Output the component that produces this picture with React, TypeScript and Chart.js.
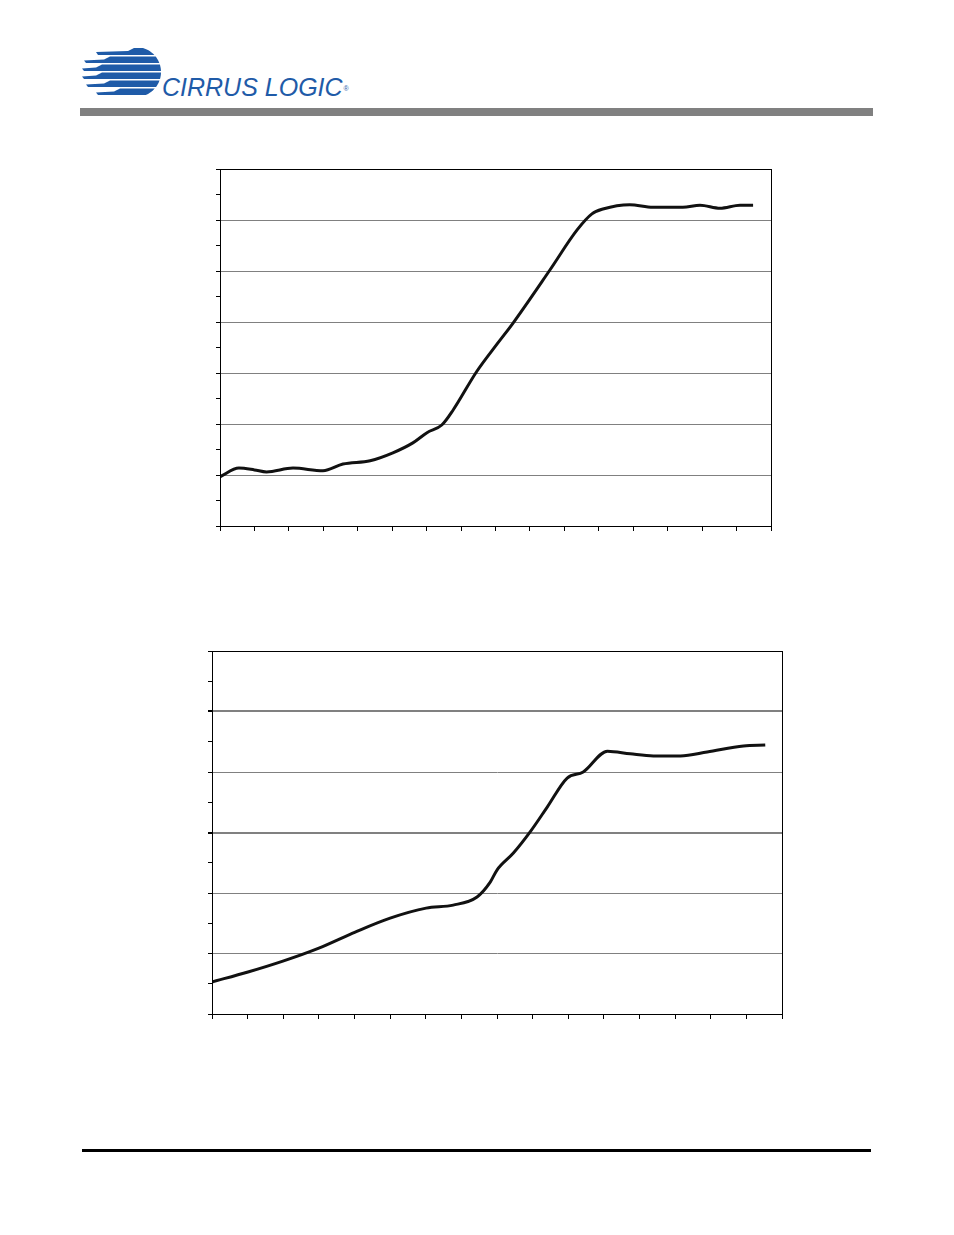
import React, { useEffect, useRef } from "react";
import { Chart, registerables } from "chart.js";

Chart.register(...registerables);

// Chart 1 (upper) values
const upperX = [0, 0.55, 1.0, 1.35, 2.12, 2.99, 3.57, 4.36, 5.02, 5.6, 6.01, 6.44, 6.77, 7.45, 8.07, 8.51, 9.58, 10.37, 10.8, 11.12, 11.9, 12.57, 13.44, 13.94, 14.52, 15.1, 15.48];
const upperY = [1.93, 2.27, 2.2, 2.12, 2.27, 2.17, 2.43, 2.56, 2.87, 3.26, 3.66, 3.96, 4.55, 6.05, 7.18, 7.96, 10.04, 11.61, 12.24, 12.43, 12.6, 12.5, 12.5, 12.58, 12.46, 12.58, 12.58];
const upperXMax = 16;
const upperYMax = 14;

// Chart 2 (lower) values
const lowerX = [0, 1.01, 1.99, 3.0, 4.02, 5.0, 6.01, 6.77, 7.44, 7.81, 8.0, 8.46, 8.93, 9.41, 9.97, 10.42, 11.1, 11.74, 12.39, 13.15, 13.9, 14.92, 15.53];
const lowerY = [1.06, 1.39, 1.75, 2.18, 2.71, 3.17, 3.5, 3.6, 3.87, 4.36, 4.76, 5.32, 6.02, 6.84, 7.8, 8.0, 8.69, 8.6, 8.53, 8.53, 8.66, 8.86, 8.89];
const lowerXMax = 16;
const lowerYMax = 12;
const lowerHeavyGrid = [6, 10];

const framePlugin = {
  id: "frame",
  afterDatasetsDraw(chart: any) {
    const { ctx, chartArea } = chart;
    ctx.save();
    ctx.strokeStyle = "#000";
    ctx.lineWidth = 1;
    ctx.strokeRect(
      Math.round(chartArea.left) + 0.5,
      Math.round(chartArea.top) + 0.5,
      Math.round(chartArea.right - chartArea.left),
      Math.round(chartArea.bottom - chartArea.top)
    );
    ctx.restore();
  },
};

type LineProps = {
  xs: number[];
  ys: number[];
  xMax: number;
  yMax: number;
  heavy?: number[];
  left: number;
  top: number;
  width: number;
  height: number;
};

function LineChart({ xs, ys, xMax, yMax, heavy = [], left, top, width, height }: LineProps) {
  const ref = useRef<HTMLCanvasElement>(null);
  useEffect(() => {
    if (!ref.current) return;
    const chart = new Chart(ref.current, {
      type: "line",
      data: {
        datasets: [
          {
            data: xs.map((x, i) => ({ x, y: ys[i] })),
            borderColor: "#111",
            borderWidth: 3,
            pointRadius: 0,
            cubicInterpolationMode: "monotone",
            fill: false,
          },
        ],
      },
      options: {
        animation: false,
        responsive: false,
        maintainAspectRatio: false,
        layout: { padding: { left: 5, top: 5, right: 5, bottom: 5 } },
        plugins: { legend: { display: false }, tooltip: { enabled: false } },
        scales: {
          x: {
            type: "linear",
            min: 0,
            max: xMax,
            ticks: { display: false, stepSize: 1 },
            grid: { drawOnChartArea: false, tickLength: 5, tickColor: "#000", color: "#000" },
            border: { color: "#000", width: 1 },
          },
          y: {
            type: "linear",
            min: 0,
            max: yMax,
            ticks: { display: false, stepSize: 1 },
            grid: {
              tickLength: 4,
              tickColor: "#000",
              color: (c: any) => {
                const v = c.tick ? c.tick.value : 0;
                return v % 2 === 0 && v > 0 && v < yMax ? "#808080" : "rgba(0,0,0,0)";
              },
              lineWidth: (c: any) => {
                const v = c.tick ? c.tick.value : 0;
                return heavy.includes(v) ? 2 : 1;
              },
            },
            border: { color: "#000", width: 1 },
          },
        },
      },
      plugins: [framePlugin],
    } as any);
    return () => chart.destroy();
  }, []);
  return (
    <div style={{ position: "absolute", left, top, width, height }}>
      <canvas ref={ref} width={width} height={height} style={{ width, height, display: "block" }} />
    </div>
  );
}

function Logo() {
  const cx = 136;
  const cy = 72;
  const r = 25;
  const stripes = [
    { t: 48, b: 55, far: 96, near: 128 },
    { t: 56.5, b: 63, far: 84, near: 104 },
    { t: 64.5, b: 71, far: 82, near: 96 },
    { t: 72.5, b: 79, far: 82, near: 96 },
    { t: 80.5, b: 87, far: 86, near: 104 },
    { t: 88.5, b: 95, far: 96, near: 114 },
  ];
  const rightAt = (y: number) => {
    const d = Math.abs(y - cy);
    return d >= r ? cx : cx + Math.sqrt(r * r - d * d);
  };
  return (
    <svg style={{ position: "absolute", left: 0, top: 0 }} width={170} height={110}>
      {stripes.map((s, i) => {
        const pts: string[] = [];
        pts.push(`${s.far},${s.t + 4}`);
        pts.push(`${s.near},${s.t + 3}`);
        pts.push(`${s.near + 6},${s.t}`);
        for (let k = 0; k <= 6; k++) {
          const y = s.t + ((s.b - s.t) * k) / 6;
          pts.push(`${rightAt(y)},${y}`);
        }
        pts.push(`${s.near + 4},${s.b}`);
        pts.push(`${s.far + 2},${s.b}`);
        return <polygon key={i} points={pts.join(" ")} fill="#1f5ba8" />;
      })}
    </svg>
  );
}

export default function App() {
  return (
    <div style={{ position: "absolute", left: 0, top: 0, width: 954, height: 1235, background: "#fff" }}>
      <Logo />
      <div
        style={{
          position: "absolute",
          left: 162,
          top: 72,
          fontFamily: "'Liberation Sans', Arial, sans-serif",
          fontStyle: "italic",
          fontSize: 25,
          color: "#1f5ba8",
          letterSpacing: 0,
          lineHeight: "30px",
          whiteSpace: "nowrap",
        }}
      >
        CIRRUS LOGIC<sup style={{ fontSize: 7, fontStyle: "normal", verticalAlign: "top", position: "relative", top: 2, marginLeft: 1 }}>®</sup>
      </div>
      <div style={{ position: "absolute", left: 80, top: 108, width: 793, height: 8, background: "#808080" }} />
      <LineChart xs={upperX} ys={upperY} xMax={upperXMax} yMax={upperYMax} left={211} top={164} width={565} height={372} />
      <LineChart xs={lowerX} ys={lowerY} xMax={lowerXMax} yMax={lowerYMax} heavy={lowerHeavyGrid} left={203} top={646} width={584} height={378} />
      <div style={{ position: "absolute", left: 82, top: 1149, width: 789, height: 3, background: "#000" }} />
    </div>
  );
}
